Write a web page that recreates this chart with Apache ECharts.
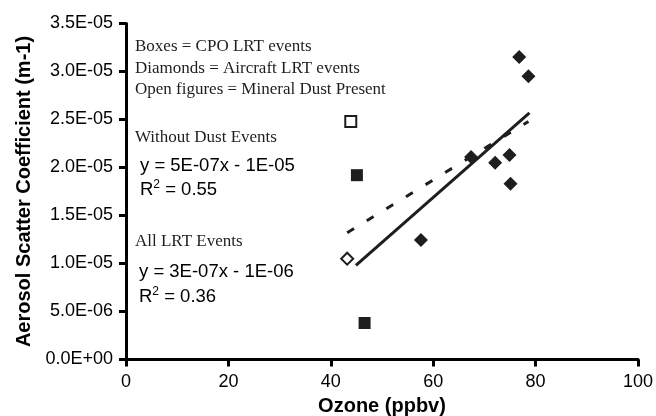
<!DOCTYPE html>
<html lang="en">
<head>
  <meta charset="UTF-8">
  <title>Aerosol scatter vs ozone</title>
  <style>
    html, body { margin: 0; padding: 0; background: #fff; }
    #main { width: 656px; height: 416px; }
  </style>
</head>
<body>
  <div id="main"></div>
  <script src="https://cdn.jsdelivr.net/npm/echarts@6/dist/echarts.min.js"></script>
  <script>
    // boxes = CPO events, diamonds = aircraft events, open = mineral dust present
    const boxFilled = [[45.1, 1.92e-5], [46.6, 3.8e-6]]
    const boxOpen = [[43.9, 2.48e-5]]
    const diamondFilled = [[57.6, 1.245e-5], [67.4, 2.11e-5], [72.1, 2.05e-5], [74.9, 2.13e-5], [75.1, 1.83e-5], [76.8, 3.15e-5], [78.6, 2.95e-5]]
    const diamondOpen = [[43.2, 1.05e-5]]
    // trend line end points
    const trendNoDust = [[44.9, 9.8e-6], [78.8, 2.57e-5]]
    const trendAll = [[43.2, 1.32e-5], [78.6, 2.48e-5]]
    const yTickLabels = ['0.0E+00', '5.0E-06', '1.0E-05', '1.5E-05', '2.0E-05', '2.5E-05', '3.0E-05', '3.5E-05']
    const xTickLabels = ['0', '20', '40', '60', '80', '100']

    const ink = '#1e1e1e'
    const sans = 'Liberation Sans'

    var myChart = echarts.init(document.getElementById('main'))

    // free text on the plot (notes + trend equations)
    const note = (txt, x, y) => ({
      type: 'text', x: x, y: y, silent: true,
      style: { text: txt, font: '17px "Liberation Serif"', fill: ink, verticalAlign: 'middle' }
    })
    const eq = (txt, x, y) => ({
      type: 'text', x: x, y: y, silent: true,
      style: {
        text: txt, font: '18.5px "Liberation Sans"', fill: '#000', verticalAlign: 'middle',
        rich: { s: { fontSize: 12, fontFamily: sans, fill: '#000', padding: [0, 0, 10, 0] } }
      }
    })

    var option = {
      animation: false,
      grid: { left: 126, right: 18, top: 23.5, bottom: 56.5, outerBoundsMode: 'none' },
      xAxis: {
        type: 'value', min: 0, max: 100, interval: 20,
        name: 'Ozone (ppbv)', nameLocation: 'middle', nameGap: 36,
        nameTextStyle: { fontFamily: sans, fontSize: 20, fontWeight: 'bold', color: '#000' },
        axisLine: { lineStyle: { color: '#000', width: 3 } },
        axisTick: { length: 7, lineStyle: { color: '#000', width: 3 } },
        axisLabel: {
          margin: 14, fontFamily: sans, fontSize: 18, color: '#000',
          formatter: v => xTickLabels[Math.round(v / 20)]
        },
        splitLine: { show: false }
      },
      yAxis: {
        type: 'value', min: 0, max: 3.5e-5, interval: 5e-6,
        name: 'Aerosol Scatter Coefficient (m-1)', nameLocation: 'middle', nameGap: 92,
        nameTextStyle: { fontFamily: sans, fontSize: 20, fontWeight: 'bold', color: '#000' },
        axisLine: { show: true, lineStyle: { color: '#000', width: 3 } },
        axisTick: { show: true, length: 7, lineStyle: { color: '#000', width: 3 } },
        axisLabel: {
          margin: 13, fontFamily: sans, fontSize: 18, color: '#000',
          formatter: v => yTickLabels[Math.round(v / 5e-6)]
        },
        splitLine: { show: false }
      },
      series: [
        {
          name: 'All LRT Events', type: 'line', data: trendAll, showSymbol: false, silent: true,
          lineStyle: { color: ink, width: 3, type: [8, 15] }
        },
        {
          name: 'Without Dust Events', type: 'line', data: trendNoDust, showSymbol: false, silent: true,
          lineStyle: { color: ink, width: 3 }
        },
        {
          name: 'CPO', type: 'scatter', data: boxFilled, symbol: 'rect', symbolSize: 12,
          itemStyle: { color: ink, opacity: 1 }
        },
        {
          name: 'CPO dust', type: 'scatter', data: boxOpen, symbol: 'rect', symbolSize: 11,
          itemStyle: { color: '#fff', borderColor: ink, borderWidth: 2, opacity: 1 }
        },
        {
          name: 'Aircraft', type: 'scatter', data: diamondFilled, symbol: 'diamond', symbolSize: 14,
          itemStyle: { color: ink, opacity: 1 }
        },
        {
          name: 'Aircraft dust', type: 'scatter', data: diamondOpen, symbol: 'diamond', symbolSize: 12,
          itemStyle: { color: '#fff', borderColor: ink, borderWidth: 2, opacity: 1 }
        }
      ],
      graphic: [
        note('Boxes = CPO LRT events', 135, 46.5),
        note('Diamonds = Aircraft LRT events', 135, 68.5),
        note('Open figures = Mineral Dust Present', 135, 90),
        note('Without Dust Events', 135, 138),
        eq('y = 5E-07x - 1E-05', 140, 165.5),
        eq('R{s|2} = 0.55', 140, 190),
        note('All LRT Events', 135, 241.5),
        eq('y = 3E-07x - 1E-06', 139, 271.5),
        eq('R{s|2} = 0.36', 139, 296.5)
      ]
    }

    myChart.setOption(option)
  </script>
</body>
</html>
